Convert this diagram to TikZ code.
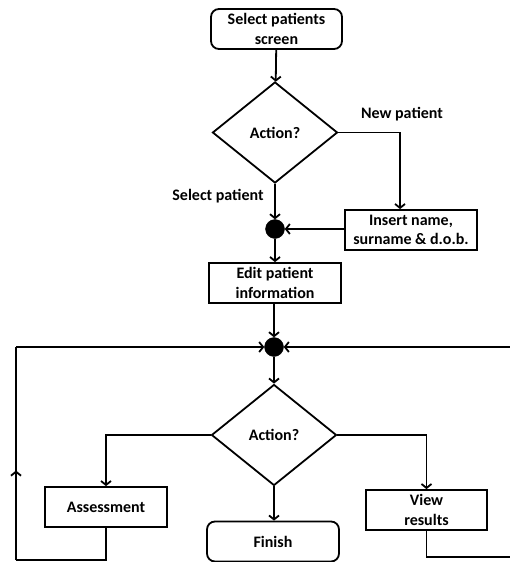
\documentclass[tikz,border=0pt]{standalone}
\usepackage{fontspec}
\setmainfont{Carlito}
\usetikzlibrary{arrows.meta, shapes.geometric, positioning}
\usetikzlibrary{decorations, decorations.markings}
\tikzset{
    flow/.style={line width=1.8pt, -{Straight Barb[length=4pt, width=10pt, line width=1.8pt]}},
    plain/.style={line width=1.8pt},
    midarrow/.style={
        decoration={
            markings,
            mark= at position #1 with {\arrow{Straight Barb[length=4pt, width=10pt, line width=1.8pt]}},
        },
        postaction={decorate}
    },
    midarrow/.default={0.5}
}
\tikzset{
    procbox/.style={draw, rectangle, line width=1.8pt, minimum height=40pt, inner sep=0pt, align=center},
    termbox/.style={procbox, rounded corners=8pt},
    decision/.style={draw, diamond, line width=1.8pt, minimum width=125pt, minimum height=101pt, inner sep=0pt, aspect=1.24},
    joint/.style={draw, circle, fill=black, minimum size=19pt, inner sep=0pt},
    lbl/.style={inner sep=0pt}
}
\begin{document}
\begin{tikzpicture}[x=1pt, y=-1pt, font=\fontsize{16}{19.5}\selectfont\bfseries]
    \useasboundingbox (0,0) rectangle (509,562);
    % top part
    \node[termbox, minimum width=131pt] (start) at (276.5,29) {Select patients\\screen};
    \node[decision] (act1) at (275,132.5) {Action?};
    \node[procbox, minimum width=132pt] (insert) at (411,230) {Insert name,\\surname \& d.o.b.};
    \node[joint] (join1) at (275,229) {};
    \node[procbox, minimum width=132pt] (edit) at (275,283) {Edit patient\\information};
    \node[lbl] (newlbl) at (402,114) {New patient};
    \node[lbl] (sellbl) at (218,196) {Select patient};
    % bottom part
    \node[joint] (join2) at (274,347) {};
    \node[decision] (act2) at (274,435) {Action?};
    \node[procbox, minimum width=122pt] (assess) at (106,507) {Assessment};
    \node[termbox, minimum width=132pt] (finish) at (273,541.5) {Finish};
    \node[procbox, minimum width=121pt] (view) at (426.5,510) {View\\results};
    \coordinate (lpA) at (16,560);
    \coordinate (lpB) at (16,347);
    \coordinate (rpA) at (511,557);
    \coordinate (rpB) at (511,347);

    \draw[flow] (start) -- (act1);
    \draw[flow] (act1.east) -| ([xshift=-11pt]insert.north);
    \draw[flow] (act1) -- (join1);
    \draw[flow] (insert.west |- join1) -- (join1);
    \draw[flow] (join1) -- (edit);
    \draw[flow] (edit.south -| join2) -- (join2);
    \draw[flow] (join2) -- (act2);
    \draw[flow] (act2.west) -| (assess.north);
    \draw[flow] (act2) -- (finish.north -| act2);
    \draw[flow] (act2.east) -| (view.north);
    \draw[plain] (assess.south) |- (lpA);
    \draw[plain, midarrow=0.42] (lpA) -- (lpB);
    \draw[flow] (lpB) -- (join2);
    \draw[plain] (view.south) |- (rpA);
    \draw[plain] (rpA) -- (rpB);
    \draw[flow] (rpB) -- (join2);
\end{tikzpicture}
\end{document}
